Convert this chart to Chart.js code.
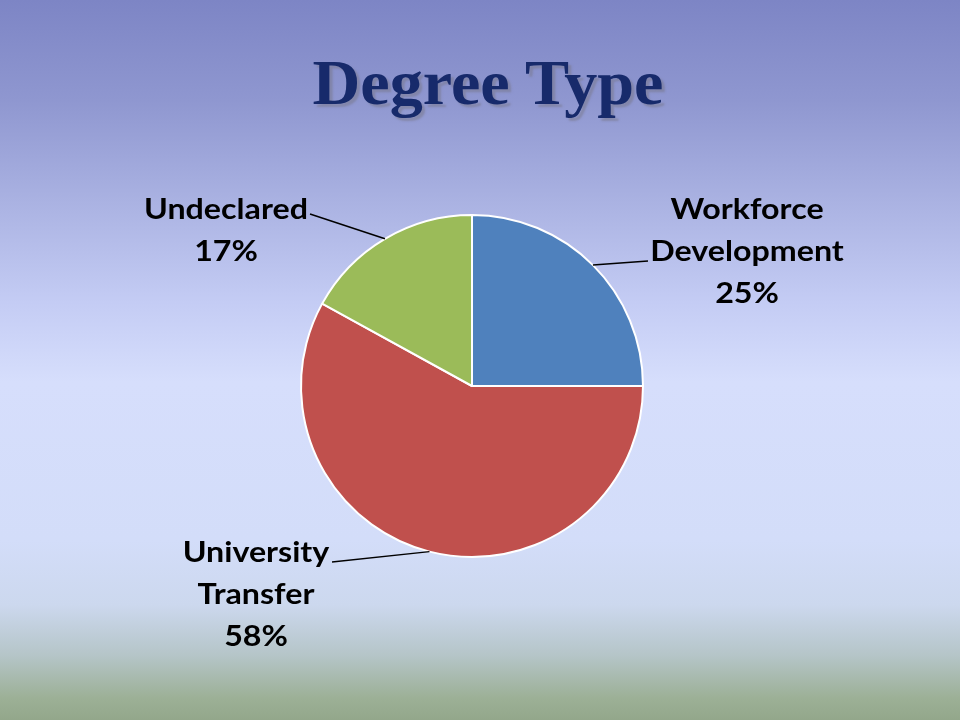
<!DOCTYPE html>
<html>
<head>
<meta charset="utf-8">
<script src="https://cdn.jsdelivr.net/npm/chart.js@4"></script>
<style>
  html, body { margin: 0; padding: 0; }
  body {
    width: 960px; height: 720px; position: relative; overflow: hidden;
    background: linear-gradient(to bottom, #7d85c5 0%, #8f97d0 14%, #aab2e2 28%, #c4ccf4 42%, #d6defc 53%, #d3ddf9 75%, #ccd8ee 84%, #b5c5c8 91%, #9cb096 97%, #93a78b 100%);
  }
  h1 {
    position: absolute; left: 8px; top: 47px; width: 960px; margin: 0;
    text-align: center; font-family: "Liberation Serif", serif; font-weight: bold;
    font-size: 63px; color: #172a6b; text-shadow: 3px 3px 2px rgba(120,120,140,0.55);
    transform: scaleX(1.05); transform-origin: 480px 0;
  }
  #wrap { position: absolute; left: 0; top: 0; width: 960px; height: 720px; }
</style>
</head>
<body>
<h1>Degree Type</h1>
<div id="wrap"><canvas id="myChart"></canvas></div>
<script>
const categories = [['Workforce', 'Development'], ['University', 'Transfer'], ['Undeclared']];
const shares = [25, 58, 17];
const sliceColors = ['#4f81bd', '#c0504d', '#9bbb59'];

// label text centre and leader-line end, one entry per slice
const labelSpots = [
    { x: 747, y: 210, endX: 648, endY: 261 },
    { x: 256, y: 553, endX: 332, endY: 562 },
    { x: 226, y: 210, endX: 310, endY: 214 }
];

const calloutLabels = {
    id: 'calloutLabels',
    afterDraw(chart) {
        const ctx = chart.ctx;
        const meta = chart.getDatasetMeta(0);
        const lineGap = 42;
        const stretch = 1.15; // text in the slide is a bit wider than Lato
        ctx.save();
        meta.data.forEach((arc, i) => {
            const p = arc.getProps(['x', 'y', 'startAngle', 'endAngle', 'outerRadius'], true);
            const mid = (p.startAngle + p.endAngle) / 2;
            const sx = p.x + Math.cos(mid) * p.outerRadius;
            const sy = p.y + Math.sin(mid) * p.outerRadius;
            const spot = labelSpots[i];
            ctx.strokeStyle = '#000';
            ctx.lineWidth = 1.5;
            ctx.beginPath();
            ctx.moveTo(sx, sy);
            ctx.lineTo(spot.endX, spot.endY);
            ctx.stroke();

            const lines = [].concat(chart.data.labels[i], shares[i] + '%');
            ctx.fillStyle = '#000';
            ctx.font = 'bold 28px Lato, "Open Sans", sans-serif';
            ctx.textAlign = 'center';
            ctx.textBaseline = 'middle';
            lines.forEach((t, k) => {
                ctx.save();
                ctx.translate(spot.x, spot.y + k * lineGap);
                ctx.scale(stretch, 1);
                ctx.fillText(t, 0, 0);
                ctx.restore();
            });
        });
        ctx.restore();
    }
};

new Chart(document.getElementById('myChart'), {
    type: 'pie',
    data: {
        labels: categories,
        datasets: [{
            data: shares,
            backgroundColor: sliceColors,
            borderColor: '#ffffff',
            borderWidth: 2,
            hoverOffset: 0
        }]
    },
    options: {
        responsive: true,
        maintainAspectRatio: false,
        animation: false,
        layout: { padding: { left: 300, right: 316, top: 214, bottom: 162 } },
        plugins: {
            legend: { display: false },
            tooltip: { enabled: false },
            title: { display: false }
        }
    },
    plugins: [calloutLabels]
});
</script>
</body>
</html>
